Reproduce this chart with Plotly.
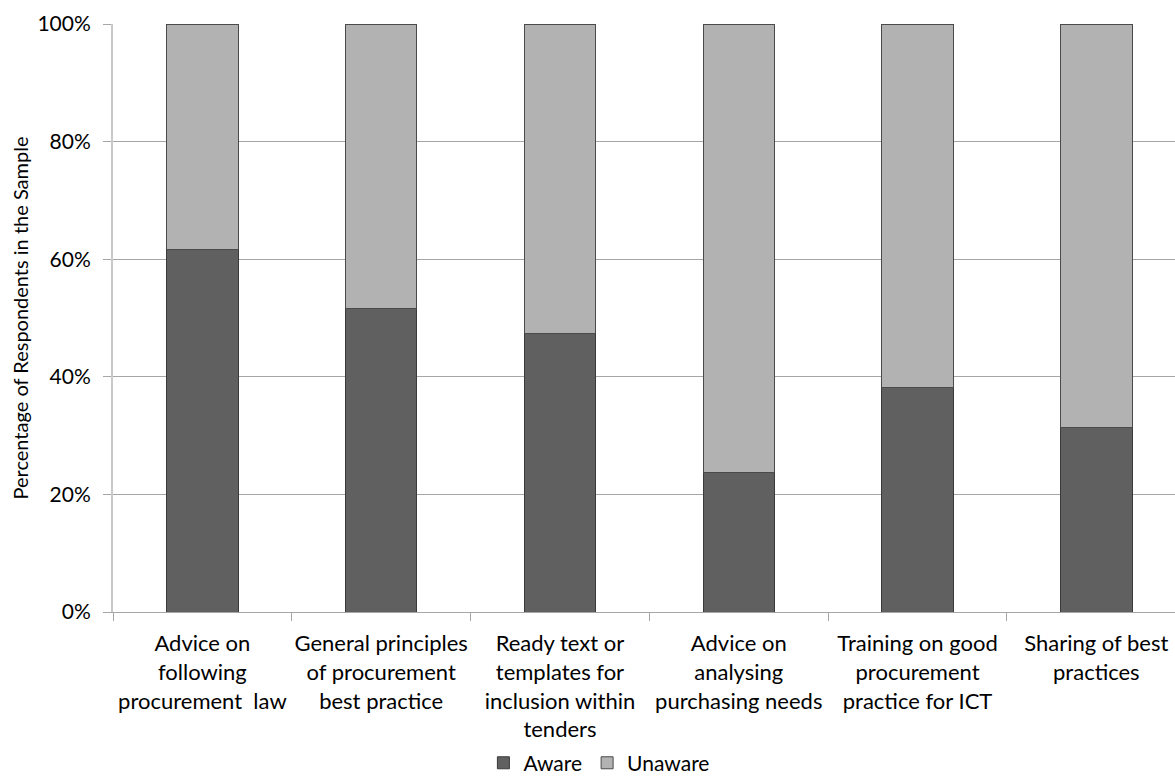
import plotly.graph_objects as go

# Survey categories (line breaks as they appear on the axis)
categories = [
    "Advice on<br>following<br>procurement  law",
    "General principles<br>of procurement<br>best practice",
    "Ready text or<br>templates for<br>inclusion within<br>tenders",
    "Advice on<br>analysing<br>purchasing needs",
    "Training on good<br>procurement<br>practice for ICT",
    "Sharing of best<br>practices",
]
aware = [61.6, 51.7, 47.3, 23.7, 38.1, 31.3]
unaware = [100 - v for v in aware]

ytick_vals = [0, 20, 40, 60, 80, 100]
ytick_text = ["0%", "20%", "40%", "60%", "80%", "100%"]

FONT = "Lato"
fig = go.Figure()
fig.add_trace(go.Bar(
    name="Aware", x=categories, y=aware, width=0.4,
    marker=dict(color="#606060", line=dict(color="#3a3a3a", width=1)),
))
fig.add_trace(go.Bar(
    name="Unaware", x=categories, y=unaware, width=0.4,
    marker=dict(color="#b2b2b2", line=dict(color="#4a4a4a", width=1)),
))

fig.update_layout(
    barmode="stack",
    width=1175, height=778,
    margin=dict(l=113, r=0, t=24, b=166, autoexpand=False),
    paper_bgcolor="white", plot_bgcolor="white",
    font=dict(family=FONT, size=21, color="#000000"),
    showlegend=True,
    legend=dict(
        orientation="h", x=0.458, xanchor="center",
        y=-0.257, yanchor="middle",
        font=dict(size=21), traceorder="normal", itemwidth=30,
    ),
)
fig.update_xaxes(
    type="category", range=[-0.5, 5.44], tickangle=0, automargin=False,
    tickson="boundaries", ticks="outside", ticklen=8, tickcolor="#a6a6a6",
    showgrid=False, showline=True, linecolor="#a6a6a6", linewidth=1,
    tickfont=dict(size=22), ticklabelstandoff=12,
)
fig.update_yaxes(
    range=[0, 100], tickvals=ytick_vals, ticktext=ytick_text, automargin=False,
    ticks="outside", ticklen=8, tickcolor="#a6a6a6",
    showgrid=True, gridcolor="#a6a6a6", gridwidth=1,
    showline=True, linecolor="#c8c8c8", linewidth=2,
    zeroline=False, tickfont=dict(size=21), ticklabelstandoff=8,
    title=dict(text="Percentage of Respondents in the Sample", font=dict(size=20), standoff=3),
)

fig.write_html("out.html")
